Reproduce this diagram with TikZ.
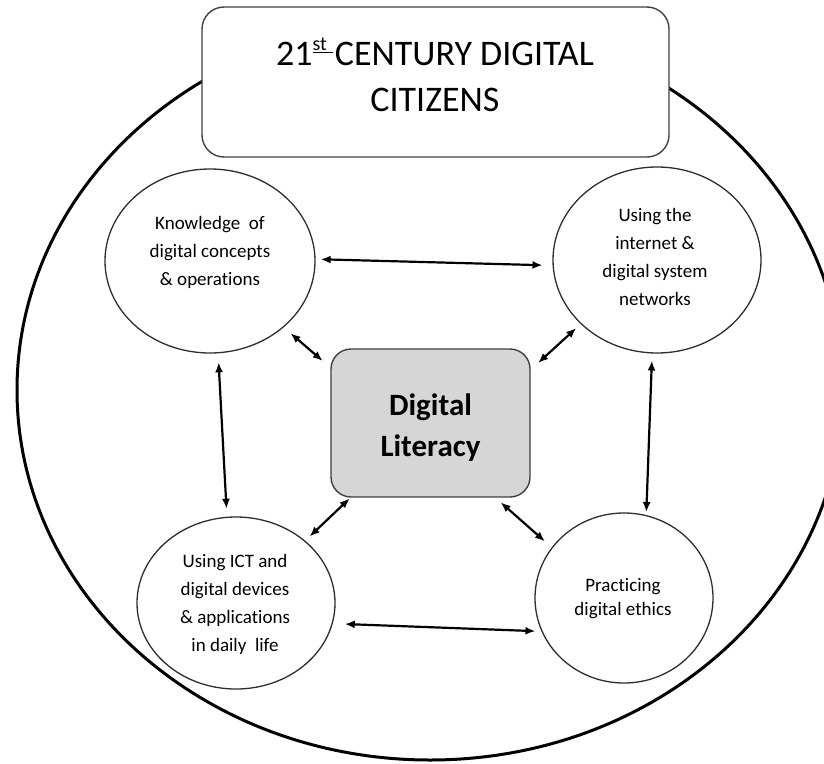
\documentclass[tikz,border=0pt]{standalone}
\usepackage{fontspec}
\setmainfont{Carlito}[Ligatures=CommonOff]
\usetikzlibrary{arrows.meta,shapes.geometric}
\definecolor{ellgray}{HTML}{2E2E2E}
\definecolor{boxgray}{HTML}{404040}
\definecolor{fillgray}{HTML}{D6D6D6}
\begin{document}
\begin{tikzpicture}[x=1pt,y=-1pt,
  ell/.style={draw=ellgray,line width=1.3pt,ellipse,inner sep=0pt,fill=white},
  txt/.style={align=center,inner sep=0pt,text=black,font=\fontsize{19}{28}\selectfont},
  arr/.style={line width=2.2pt,{Latex[length=10pt,width=8pt]}-{Latex[length=10pt,width=8pt]}},
  rbox/.style={draw=boxgray,line width=1.4pt,rectangle,inner sep=0pt}]
\useasboundingbox (0,0) rectangle (824,763);
\clip (0,0) rectangle (824,763);
\fill[white] (0,0) rectangle (824,763);
% big outer ellipse
\draw[line width=3pt,black] (430,390) ellipse [x radius=413pt, y radius=370pt];
% title box
\node[rbox,fill=white,rounded corners=22pt,minimum width=467pt,minimum height=150pt] (title) at (435.5,82) {};
\node[align=center,inner sep=0pt,font=\fontsize{36}{46}\selectfont] (titletext) at (435,75)
  {21\raisebox{15pt}{\fontsize{20}{20}\selectfont\underline{st\kern6pt}}\kern2pt CENTURY DIGITAL\\CITIZENS};
% centre box
\node[rbox,fill=fillgray,rounded corners=20pt,minimum width=199pt,minimum height=148pt] (core) at (430.5,423) {};
\node[align=center,inner sep=0pt,font=\fontsize{31}{41}\bfseries\selectfont] (coretext) at (430.5,428) {Digital\\Literacy};
% four ellipses
\node[ell,minimum width=210pt,minimum height=184pt] (tl) at (210,261) {};
\node[ell,minimum width=208pt,minimum height=186pt] (tr) at (657,260) {};
\node[ell,minimum width=198pt,minimum height=172pt] (bl) at (236,603) {};
\node[ell,minimum width=178pt,minimum height=170pt] (br) at (624,598) {};
\node[txt] (tltext) at (210,252) {Knowledge\ \ of\\digital concepts\\\& operations};
\node[txt] (trtext) at (655,257) {Using the\\internet \&\\digital system\\networks};
\node[txt] (bltext) at (235,604) {Using ICT and\\digital devices\\\& applications\\in daily\ \ life};
\node[txt,font=\fontsize{19}{24}\selectfont] (brtext) at (623,599) {Practicing\\digital ethics};
% connectors
\draw[arr,shorten <=5pt,shorten >=10pt] (tl.1) -- (tr.183);
\draw[arr,shorten <=9pt,shorten >=10pt] (tl.-42) -- (core.151);
\draw[arr,shorten <=6pt,shorten >=10pt] (tr.220) -- (core.28);
\draw[arr,shorten <=9pt,shorten >=8pt] (tl.-85) -- (bl.96);
\draw[arr,shorten <=7pt,shorten >=3pt] (tr.-93) -- (br.75);
\draw[arr,shorten <=1pt,shorten >=6pt] (core.223) -- (bl.42);
\draw[arr,shorten <=7pt,shorten >=9pt] (core.-49) -- (br.145);
\draw[arr,shorten <=12pt,shorten >=6pt] (bl.-12) -- (br.202);
\end{tikzpicture}
\end{document}
